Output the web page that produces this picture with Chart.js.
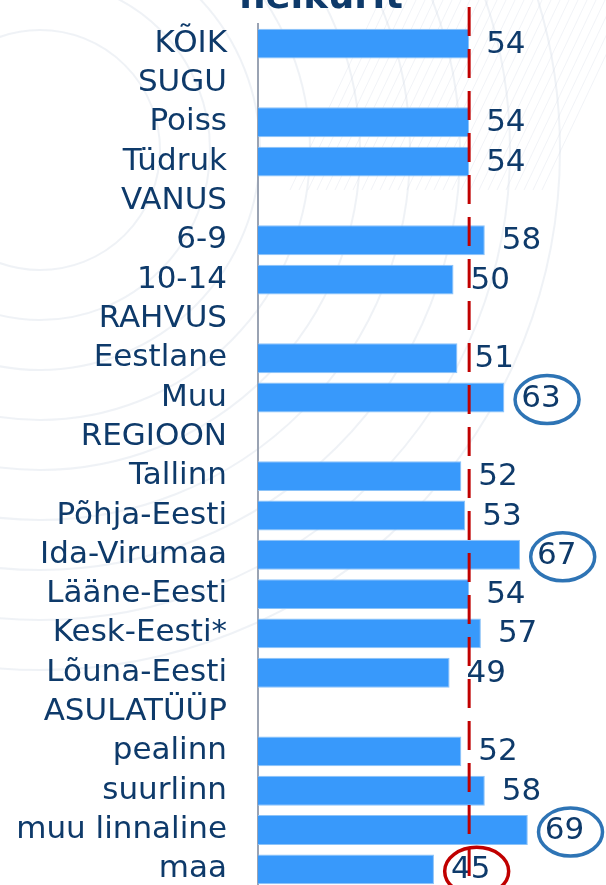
<!DOCTYPE html>
<html>
<head>
<meta charset="utf-8">
<script src="https://cdn.jsdelivr.net/npm/chart.js@4/dist/chart.umd.min.js"></script>
<style>
    html, body { margin: 0; padding: 0; overflow: hidden; background: #fff; }
    #wrap { width: 606px; height: 889px; }
</style>
</head>
<body>
<div id="wrap"><canvas id="chart" width="606" height="889"></canvas></div>
<script>
// data (empty rows are group headers)
const categories = ['KÕIK', 'SUGU', 'Poiss', 'Tüdruk', 'VANUS', '6-9', '10-14', 'RAHVUS',
    'Eestlane', 'Muu', 'REGIOON', 'Tallinn', 'Põhja-Eesti', 'Ida-Virumaa', 'Lääne-Eesti',
    'Kesk-Eesti*', 'Lõuna-Eesti', 'ASULATÜÜP', 'pealinn', 'suurlinn', 'muu linnaline', 'maa'];
const values = [54, null, 54, 54, null, 58, 50, null, 51, 63, null, 52, 53, 67, 54, 57, 49, null, 52, 58, 69, 45];
const referenceValue = 54;
const circledBlue = ['Muu', 'Ida-Virumaa', 'muu linnaline'];
const circledRed = ['maa'];
const titleText = 'heikurit';

const textColor = '#0e3a6a';
const fontFamily = '"DejaVu Sans", Verdana, sans-serif';

// faint background arcs and the cut-off title
const backdrop = {
    id: 'backdrop',
    beforeDraw(chart) {
        const ctx = chart.ctx;
        ctx.save();
        ctx.fillStyle = '#fff';
        ctx.fillRect(0, 0, chart.width, chart.height);
        ctx.strokeStyle = 'rgba(210, 218, 230, 0.35)';
        ctx.lineWidth = 2;
        for (let r = 120; r <= 520; r += 50) {
            ctx.beginPath();
            ctx.arc(40, 150, r, 0, Math.PI * 2);
            ctx.stroke();
        }
        // light hatch in the upper right
        ctx.strokeStyle = 'rgba(215, 222, 232, 0.35)';
        ctx.lineWidth = 1;
        for (let k = 380; k <= 640; k += 9) {
            ctx.beginPath();
            ctx.moveTo(k, 0);
            ctx.lineTo(k - 90, 190);
            ctx.stroke();
        }
        ctx.restore();
    },
    afterDraw(chart) {
        const ctx = chart.ctx;
        ctx.save();
        ctx.fillStyle = textColor;
        ctx.font = 'bold 37px ' + fontFamily;
        ctx.textAlign = 'center';
        ctx.textBaseline = 'alphabetic';
        ctx.fillText(titleText, 321, 8);
        ctx.restore();
    }
};

// value labels, highlight ellipses and the dashed reference line
const annotations = {
    id: 'annotations',
    afterDatasetsDraw(chart) {
        const ctx = chart.ctx;
        const meta = chart.getDatasetMeta(0);
        ctx.save();
        ctx.font = '31px ' + fontFamily;
        ctx.textBaseline = 'middle';
        ctx.textAlign = 'left';
        meta.data.forEach((bar, i) => {
            if (values[i] == null) return;
            const txt = String(values[i]);
            const x = bar.x + 17;
            ctx.fillStyle = textColor;
            ctx.fillText(txt, x, bar.y + 1);
            let ring = null;
            if (circledBlue.includes(categories[i])) ring = '#2e74b5';
            if (circledRed.includes(categories[i])) ring = '#c00000';
            if (ring) {
                const w = ctx.measureText(txt).width;
                ctx.strokeStyle = ring;
                ctx.lineWidth = 3.5;
                ctx.beginPath();
                ctx.ellipse(x + w / 2 + 6, bar.y + 2, 32, 24, 0, 0, Math.PI * 2);
                ctx.stroke();
            }
        });

        const rx = chart.scales.x.getPixelForValue(referenceValue);
        ctx.strokeStyle = '#c00000';
        ctx.lineWidth = 3;
        ctx.setLineDash([29, 13]);
        ctx.beginPath();
        ctx.moveTo(rx, 7);
        ctx.lineTo(rx, chart.chartArea.bottom);
        ctx.stroke();
        ctx.restore();
    }
};

new Chart(document.getElementById('chart'), {
    type: 'bar',
    data: {
        labels: categories,
        datasets: [{
            data: values,
            backgroundColor: '#3899fb',
            borderColor: '#8cc3f8',
            borderWidth: 1,
            barPercentage: 0.76,
            categoryPercentage: 1
        }]
    },
    options: {
        indexAxis: 'y',
        responsive: false,
        animation: false,
        devicePixelRatio: 1,
        layout: { padding: { top: 24, right: 0, bottom: 0, left: 0 } },
        plugins: {
            legend: { display: false },
            tooltip: { enabled: false }
        },
        scales: {
            x: {
                display: false,
                min: 0,
                max: 89
            },
            y: {
                grid: { display: false, drawTicks: false },
                border: { display: true, color: '#9aa3b3', width: 2 },
                ticks: {
                    color: textColor,
                    font: { family: fontFamily, size: 31 },
                    padding: 31,
                    autoSkip: false
                },
                afterFit(scale) {
                    scale.width = 258;
                    scale.paddingTop = 0;
                    scale.paddingBottom = 0;
                }
            }
        }
    },
    plugins: [backdrop, annotations]
});
</script>
</body>
</html>
